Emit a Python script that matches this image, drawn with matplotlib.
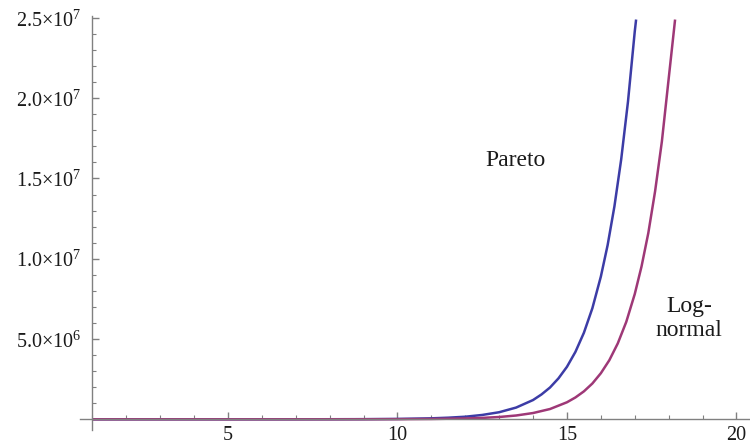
import matplotlib
matplotlib.use('Agg')
import matplotlib.pyplot as plt
from matplotlib.ticker import MultipleLocator, FixedLocator

plt.rcParams['font.family'] = ['Liberation Serif', 'DejaVu Serif']
plt.rcParams['mathtext.fontset'] = 'custom'
plt.rcParams['mathtext.rm'] = 'Liberation Serif'

# values (y in units of 1e6)
pareto_x = [1, 2, 3, 4, 5, 6, 7, 8, 9, 10, 11, 11.5, 12, 12.5, 13, 13.5, 14,
            14.25, 14.5, 14.75, 15, 15.25, 15.5, 15.75, 16, 16.2, 16.4, 16.6,
            16.8, 17.0, 17.04]
pareto_y = [0, 0, 0, 0, 0, 0, 0.001, 0.003, 0.008, 0.022, 0.06, 0.10, 0.16,
            0.27, 0.44, 0.73, 1.2, 1.55, 1.98, 2.55, 3.27, 4.2, 5.39, 6.92,
            8.89, 10.85, 13.26, 16.19, 19.78, 24.15, 24.9]

lognormal_x = [1, 2, 3, 4, 5, 6, 7, 8, 9, 10, 11, 12, 12.5, 13, 13.5, 14,
               14.5, 15, 15.25, 15.5, 15.75, 16, 16.25, 16.5, 16.75, 17,
               17.2, 17.4, 17.6, 17.8, 18.0, 18.19]
lognormal_y = [0, 0, 0, 0, 0, 0, 0, 0.001, 0.003, 0.007, 0.019, 0.053, 0.087,
               0.143, 0.236, 0.39, 0.64, 1.06, 1.36, 1.74, 2.23, 2.87, 3.68,
               4.73, 6.07, 7.8, 9.52, 11.6, 14.2, 17.3, 21.2, 24.9]

ytick_vals = [5e6, 1e7, 1.5e7, 2e7, 2.5e7]
ytick_labels = ['5.0×10$^{6}$', '1.0×10$^{7}$', '1.5×10$^{7}$',
                '2.0×10$^{7}$', '2.5×10$^{7}$']
xtick_vals = [5, 10, 15, 20]

fig = plt.figure(figsize=(7.5, 4.46), dpi=100)
ax = fig.add_axes([80 / 750, 16 / 446, 670 / 750, 414 / 446])

ax.plot(pareto_x, [v * 1e6 for v in pareto_y], color='#3c3ca6', lw=1.8,
        solid_capstyle='butt')
ax.plot(lognormal_x, [v * 1e6 for v in lognormal_y], color='#9e3877', lw=1.8,
        solid_capstyle='butt')

ax.set_xlim(0.634, 20.4)
ax.set_ylim(-0.667e6, 25.12e6)

for s in ['top', 'right']:
    ax.spines[s].set_visible(False)
ax.spines['left'].set_position(('data', 1))
ax.spines['bottom'].set_position(('data', 0))
for s in ['left', 'bottom']:
    ax.spines[s].set_color('#808080')
    ax.spines[s].set_linewidth(1.0)

ax.xaxis.set_major_locator(FixedLocator(xtick_vals))
ax.xaxis.set_minor_locator(MultipleLocator(1))
ax.yaxis.set_major_locator(FixedLocator(ytick_vals))
ax.set_yticklabels(ytick_labels)
ax.yaxis.set_minor_locator(FixedLocator([v * 1e6 for v in range(1, 25)
                                         if v % 5 != 0]))

ax.tick_params(axis='both', which='both', direction='in', color='#808080',
               labelsize=14.5, labelcolor='#1a1a1a')
ax.tick_params(axis='both', which='major', length=5, width=1.0)
ax.tick_params(axis='both', which='minor', length=3, width=0.8)
ax.tick_params(axis='y', pad=8)
ax.tick_params(axis='x', pad=5)

ax.text(13.47, 16.1e6, 'Pareto', fontsize=17, ha='center', va='center',
        color='#1a1a1a')
ax.text(18.6, 6.3e6, 'Log-\nnormal', fontsize=17, ha='center', va='center',
        linespacing=1.2, color='#1a1a1a')

fig.savefig('out.png', dpi=100)
